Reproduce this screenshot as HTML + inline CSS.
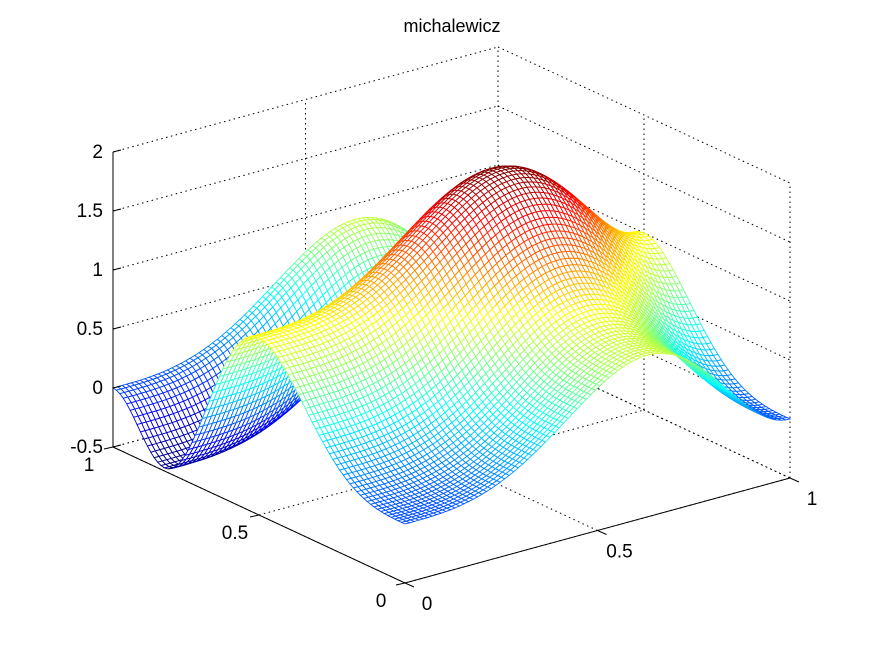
<!DOCTYPE html>
<html><head><meta charset="utf-8"><title>michalewicz</title>
<style>
html,body{margin:0;padding:0;background:#fff;}
svg{display:block;font-family:"Liberation Sans",Arial,sans-serif;}
</style></head>
<body>
<svg id="chart" width="875" height="656" viewBox="0 0 875 656">
  <rect x="0" y="0" width="875" height="656" fill="#fff"/>
  <text x="452" y="32" text-anchor="middle" font-size="18" fill="#000">michalewicz</text>
  <g id="grid" stroke="#000" stroke-width="1" stroke-dasharray="1.5,3.5" fill="none"></g>
  <g id="surface"></g>
  <g id="axes" stroke="#000" stroke-width="1" fill="none"></g>
  <g id="labels" font-size="19" fill="#000"></g>
</svg>
<script>
// ---- chart data ----
const xTicks = [0, 0.5, 1];
const yTicks = [0, 0.5, 1];
const zTicks = [-0.5, 0, 0.5, 1, 1.5, 2];
const xTickLabels = ["0", "0.5", "1"];
const yTickLabels = ["0", "0.5", "1"];
const zTickLabels = ["-0.5", "0", "0.5", "1", "1.5", "2"];
const termIndex = [1, 2];      // michalewicz term index i for x and y dimensions
const meshCount = [85];        // number of mesh cells per side

const NS = "http://www.w3.org/2000/svg";
const O = [405, 583], VX = [385, -105], VY = [-292, -136], ZS = 118, ZMIN = -0.5, ZMAX = 2;
function P(x, y, z) {
  return [O[0] + x * VX[0] + y * VY[0], O[1] + x * VX[1] + y * VY[1] - (z - ZMIN) * ZS];
}
function depth(x, y, z) {
  const zn = (z - ZMIN) / (ZMAX - ZMIN);
  return Math.cos(Math.PI / 6) * (0.61 * x + 0.79 * y) - Math.sin(Math.PI / 6) * zn;
}
function term(u, i) { return Math.sin(Math.PI * u) * Math.sin(i * Math.PI * u * u); }

function mk(tag, attrs, parent) {
  const el = document.createElementNS(NS, tag);
  for (const k in attrs) el.setAttribute(k, attrs[k]);
  parent.appendChild(el);
  return el;
}
function line(g, a, b, name) {
  const el = mk("line", {x1: a[0], y1: a[1], x2: b[0], y2: b[1]}, g);
  
  
}

const grid = document.getElementById("grid");
zTicks.forEach(z => {
  line(grid, P(0, 1, z), P(1, 1, z), "grid-z-back-left");
  line(grid, P(1, 1, z), P(1, 0, z), "grid-z-back-right");
});
xTicks.forEach(x => {
  line(grid, P(x, 0, ZMIN), P(x, 1, ZMIN), "grid-x-floor");
  line(grid, P(x, 1, ZMIN), P(x, 1, ZMAX), "grid-x-wall");
});
yTicks.forEach(y => {
  line(grid, P(0, y, ZMIN), P(1, y, ZMIN), "grid-y-floor");
  line(grid, P(1, y, ZMIN), P(1, y, ZMAX), "grid-y-wall");
});

const N = meshCount[0];
const xs = [], ys = [];
for (let i = 0; i <= N; i++) { xs.push(i / N); ys.push(i / N); }
const Z = [];
let zmin = Infinity, zmax = -Infinity;
for (let j = 0; j <= N; j++) {
  const row = [];
  for (let i = 0; i <= N; i++) {
    const v = term(xs[i], termIndex[0]) + term(ys[j], termIndex[1]);
    row.push(v); zmin = Math.min(zmin, v); zmax = Math.max(zmax, v);
  }
  Z.push(row);
}
function jet(t) {
  const c = v => Math.round(255 * Math.max(0, Math.min(1, v)));
  return "rgb(" + c(1.5 - Math.abs(4 * t - 3)) + "," + c(1.5 - Math.abs(4 * t - 2)) + "," + c(1.5 - Math.abs(4 * t - 1)) + ")";
}
const quads = [];
for (let j = 0; j < N; j++) for (let i = 0; i < N; i++) {
  const zc = (Z[j][i] + Z[j][i + 1] + Z[j + 1][i] + Z[j + 1][i + 1]) / 4;
  quads.push({i, j, d: depth((xs[i] + xs[i + 1]) / 2, (ys[j] + ys[j + 1]) / 2, zc)});
}
quads.sort((a, b) => b.d - a.d);
const surf = document.getElementById("surface");
quads.forEach(q => {
  const {i, j} = q;
  const pts = [P(xs[i], ys[j], Z[j][i]), P(xs[i + 1], ys[j], Z[j][i + 1]),
               P(xs[i + 1], ys[j + 1], Z[j + 1][i + 1]), P(xs[i], ys[j + 1], Z[j + 1][i])];
  const col = jet((Z[j][i] - zmin) / (zmax - zmin));
  const el = mk("polygon", {points: pts.map(p => p[0].toFixed(1) + "," + p[1].toFixed(1)).join(" "),
    fill: "#fff", stroke: col, "stroke-width": "0.9"}, surf);
  
  
});

const axes = document.getElementById("axes");
line(axes, P(0, 1, ZMIN), P(0, 1, ZMAX), "z-axis");
line(axes, P(0, 0, ZMIN), P(0, 1, ZMIN), "y-axis");
line(axes, P(0, 0, ZMIN), P(1, 0, ZMIN), "x-axis");
const labels = document.getElementById("labels");
zTicks.forEach((z, k) => {
  const p = P(0, 1, z);
  line(axes, p, [p[0] + 8, p[1] - 2], "z-tick");
  const t = mk("text", {x: p[0] - 10, y: p[1] + 6, "text-anchor": "end"}, labels);
  t.textContent = zTickLabels[k];
  
  
});
yTicks.forEach((y, k) => {
  const p = P(0, y, ZMIN);
  line(axes, p, [p[0] - 9, p[1] + 2], "y-tick");
  const t = mk("text", {x: p[0] - 24, y: p[1] + 24, "text-anchor": "middle"}, labels);
  t.textContent = yTickLabels[k];
  
  
});
xTicks.forEach((x, k) => {
  const p = P(x, 0, ZMIN);
  line(axes, p, [p[0] + 9, p[1] + 4], "x-tick");
  const t = mk("text", {x: p[0] + 22, y: p[1] + 27, "text-anchor": "middle"}, labels);
  t.textContent = xTickLabels[k];
  
  
});
</script>
</body></html>
